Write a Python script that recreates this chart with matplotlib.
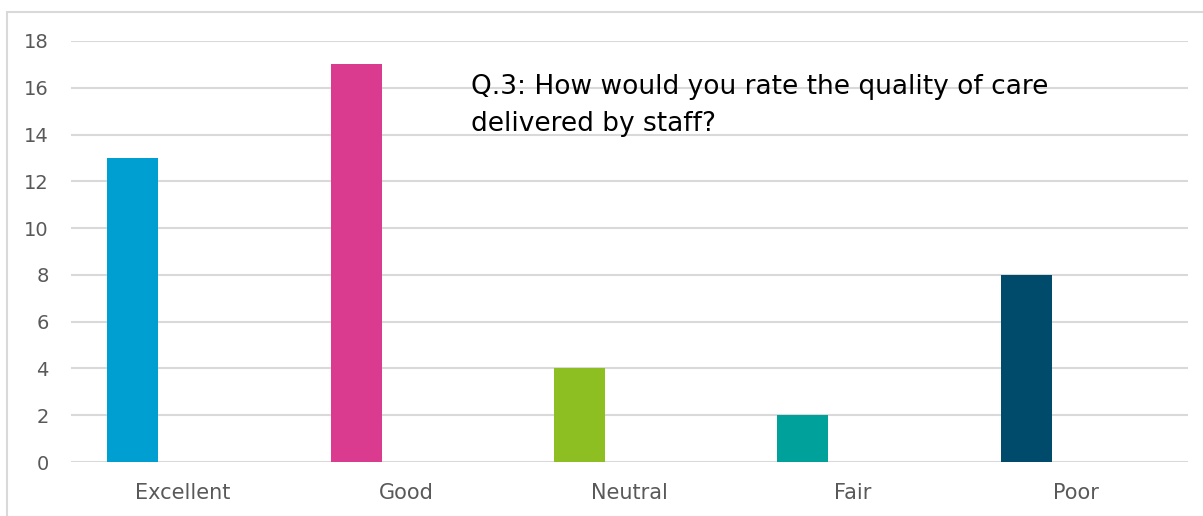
import matplotlib.pyplot as plt
from matplotlib.patches import Rectangle
import numpy as np

categories = ["Excellent", "Good", "Neutral", "Fair", "Poor"]
counts = [13, 17, 4, 2, 8]
colors = ["#009FD1", "#DA3B8F", "#8DBE22", "#00A19A", "#004B6B"]
title = "Q.3: How would you rate the quality of care\ndelivered by staff?"

plt.rcParams['font.family'] = ['DejaVu Sans']

fig = plt.figure(figsize=(12.03, 5.16), dpi=100)
# light frame around chart area
fig.patches.append(Rectangle((7 / 1203, -0.1), 1.2, (516 - 12) / 516 + 0.1,
                             transform=fig.transFigure, fill=False,
                             edgecolor="#d9d9d9", linewidth=1.5))

ax = fig.add_axes([71 / 1203, 54 / 516, (1188 - 71) / 1203, (462 - 41) / 516])
x = np.arange(len(categories))
ax.bar(x - 0.224, counts, width=0.228, color=colors, zorder=3)

ax.set_xlim(-0.5, len(categories) - 0.5)
ax.set_ylim(0, 18)
ax.set_yticks(range(0, 19, 2))
ax.set_xticks(x)
ax.set_xticklabels(categories)
ax.grid(axis="y", color="#d9d9d9", linewidth=1.5, zorder=0)
for s in ax.spines.values():
    s.set_visible(False)
ax.tick_params(axis="both", length=0, labelcolor="#595959")
ax.tick_params(axis="x", labelsize=15, pad=15)
ax.tick_params(axis="y", labelsize=14, pad=16)

fig.text(471 / 1203, 1 - 74 / 516, title, fontsize=19, color="#000000",
         va="top", ha="left", linespacing=1.55)

fig.savefig("out.png", dpi=100)
